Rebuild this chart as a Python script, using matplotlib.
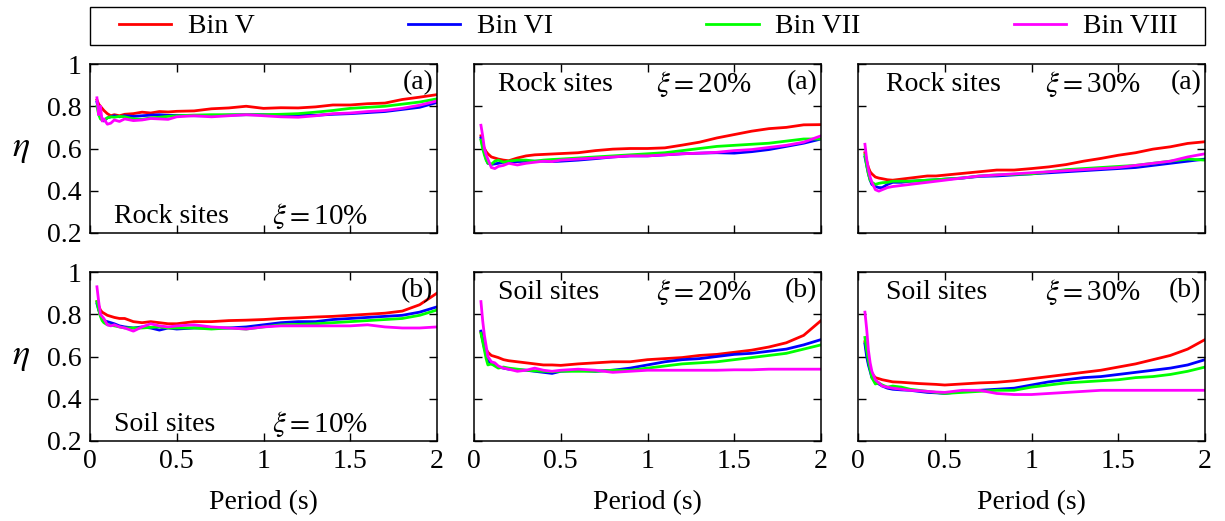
import matplotlib.pyplot as plt
from matplotlib.patches import Rectangle

plt.rcParams['font.family'] = 'Liberation Serif'
plt.rcParams['mathtext.fontset'] = 'stix'
plt.rcParams['font.size'] = 20

period = [0.04, 0.05, 0.06, 0.07, 0.08, 0.1, 0.12, 0.14, 0.17, 0.2, 0.25, 0.3, 0.35, 0.4, 0.45, 0.5,
          0.6, 0.7, 0.8, 0.9, 1.0, 1.1, 1.2, 1.3, 1.4, 1.5, 1.6, 1.7, 1.8, 1.9, 2.0]

bins = ['Bin V', 'Bin VI', 'Bin VII', 'Bin VIII']
colors = ['#ff0000', '#0000ff', '#00ff00', '#ff00ff']

# eta per bin (V, VI, VII, VIII) for each site class / damping ratio
rock_10 = [
    [0.83, 0.81, 0.80, 0.79, 0.78, 0.765, 0.755, 0.76, 0.755, 0.762, 0.765, 0.772, 0.768, 0.775, 0.773, 0.776,
     0.778, 0.788, 0.792, 0.800, 0.790, 0.793, 0.792, 0.797, 0.806, 0.806, 0.812, 0.815, 0.832, 0.843, 0.855],
    [0.82, 0.78, 0.76, 0.74, 0.73, 0.745, 0.75, 0.755, 0.75, 0.755, 0.752, 0.755, 0.758, 0.76, 0.757, 0.757,
     0.755, 0.755, 0.758, 0.76, 0.76, 0.757, 0.76, 0.757, 0.762, 0.765, 0.77, 0.775, 0.785, 0.795, 0.818],
    [0.80, 0.76, 0.74, 0.735, 0.735, 0.745, 0.75, 0.748, 0.752, 0.75, 0.74, 0.738, 0.745, 0.748, 0.752, 0.755,
     0.758, 0.76, 0.76, 0.76, 0.76, 0.762, 0.765, 0.772, 0.78, 0.79, 0.795, 0.80, 0.81, 0.82, 0.835],
    [0.84, 0.76, 0.80, 0.73, 0.74, 0.715, 0.72, 0.735, 0.728, 0.74, 0.732, 0.735, 0.742, 0.74, 0.738, 0.75,
     0.755, 0.75, 0.755, 0.76, 0.755, 0.75, 0.748, 0.755, 0.765, 0.768, 0.775, 0.78, 0.79, 0.805, 0.825],
]
rock_20 = [
    [0.66, 0.62, 0.60, 0.585, 0.575, 0.56, 0.555, 0.55, 0.545, 0.542, 0.555, 0.565, 0.57, 0.572, 0.574, 0.576,
     0.58, 0.59, 0.597, 0.60, 0.60, 0.603, 0.616, 0.63, 0.65, 0.666, 0.682, 0.694, 0.70, 0.712, 0.713],
    [0.65, 0.61, 0.58, 0.55, 0.53, 0.525, 0.527, 0.53, 0.535, 0.535, 0.538, 0.54, 0.54, 0.54, 0.538, 0.54,
     0.545, 0.552, 0.56, 0.565, 0.565, 0.57, 0.575, 0.578, 0.58, 0.578, 0.585, 0.595, 0.61, 0.625, 0.645],
    [0.64, 0.60, 0.57, 0.545, 0.53, 0.525, 0.54, 0.545, 0.535, 0.54, 0.545, 0.545, 0.54, 0.545, 0.548, 0.55,
     0.555, 0.56, 0.565, 0.57, 0.575, 0.58, 0.59, 0.60, 0.61, 0.615, 0.62, 0.625, 0.635, 0.645, 0.645],
    [0.71, 0.66, 0.60, 0.57, 0.55, 0.51, 0.505, 0.515, 0.52, 0.53, 0.522, 0.53, 0.535, 0.54, 0.538, 0.545,
     0.55, 0.555, 0.56, 0.565, 0.565, 0.57, 0.575, 0.578, 0.582, 0.59, 0.595, 0.605, 0.615, 0.63, 0.66],
]
rock_30 = [
    [0.58, 0.54, 0.51, 0.49, 0.48, 0.465, 0.46, 0.457, 0.452, 0.45, 0.455, 0.46, 0.465, 0.47, 0.47, 0.474,
     0.482, 0.49, 0.498, 0.498, 0.505, 0.513, 0.524, 0.54, 0.553, 0.568, 0.58, 0.597, 0.608, 0.624, 0.632],
    [0.56, 0.52, 0.48, 0.45, 0.43, 0.42, 0.415, 0.415, 0.43, 0.44, 0.44, 0.445, 0.447, 0.45, 0.452, 0.455,
     0.46, 0.468, 0.47, 0.475, 0.48, 0.485, 0.49, 0.495, 0.50, 0.505, 0.51, 0.52, 0.53, 0.54, 0.55],
    [0.57, 0.52, 0.48, 0.45, 0.44, 0.43, 0.435, 0.438, 0.44, 0.445, 0.445, 0.445, 0.448, 0.45, 0.452, 0.455,
     0.46, 0.47, 0.475, 0.478, 0.48, 0.49, 0.50, 0.505, 0.51, 0.515, 0.52, 0.53, 0.54, 0.55, 0.545],
    [0.62, 0.55, 0.50, 0.465, 0.44, 0.405, 0.398, 0.405, 0.415, 0.42, 0.425, 0.43, 0.435, 0.44, 0.445, 0.45,
     0.46, 0.47, 0.475, 0.48, 0.485, 0.49, 0.495, 0.50, 0.505, 0.51, 0.52, 0.53, 0.54, 0.56, 0.575],
]
soil_10 = [
    [0.86, 0.84, 0.82, 0.81, 0.805, 0.795, 0.79, 0.785, 0.78, 0.78, 0.765, 0.76, 0.765, 0.76, 0.755, 0.755,
     0.765, 0.765, 0.77, 0.772, 0.775, 0.78, 0.783, 0.787, 0.79, 0.795, 0.80, 0.805, 0.815, 0.845, 0.90],
    [0.85, 0.82, 0.80, 0.78, 0.77, 0.765, 0.76, 0.755, 0.745, 0.74, 0.735, 0.74, 0.735, 0.725, 0.735, 0.73,
     0.735, 0.735, 0.735, 0.74, 0.75, 0.76, 0.765, 0.765, 0.775, 0.78, 0.785, 0.79, 0.795, 0.81, 0.835],
    [0.86, 0.82, 0.79, 0.77, 0.76, 0.75, 0.748, 0.745, 0.74, 0.735, 0.735, 0.735, 0.738, 0.74, 0.735, 0.735,
     0.735, 0.73, 0.735, 0.73, 0.74, 0.75, 0.752, 0.755, 0.76, 0.765, 0.77, 0.775, 0.78, 0.795, 0.82],
    [0.93, 0.86, 0.80, 0.79, 0.78, 0.75, 0.745, 0.75, 0.74, 0.735, 0.72, 0.74, 0.755, 0.745, 0.74, 0.745,
     0.75, 0.74, 0.735, 0.73, 0.74, 0.745, 0.745, 0.745, 0.745, 0.745, 0.75, 0.74, 0.735, 0.735, 0.74],
]
soil_20 = [
    [0.716, 0.68, 0.65, 0.635, 0.62, 0.605, 0.60, 0.595, 0.585, 0.58, 0.575, 0.57, 0.565, 0.56, 0.56, 0.558,
     0.565, 0.57, 0.575, 0.575, 0.585, 0.59, 0.595, 0.605, 0.61, 0.62, 0.63, 0.645, 0.665, 0.70, 0.77],
    [0.72, 0.68, 0.64, 0.61, 0.58, 0.565, 0.56, 0.55, 0.545, 0.54, 0.537, 0.535, 0.53, 0.525, 0.52, 0.53,
     0.535, 0.53, 0.535, 0.545, 0.56, 0.575, 0.585, 0.59, 0.60, 0.61, 0.615, 0.625, 0.635, 0.655, 0.68],
    [0.71, 0.67, 0.63, 0.59, 0.56, 0.565, 0.555, 0.545, 0.55, 0.545, 0.54, 0.535, 0.532, 0.53, 0.528, 0.53,
     0.53, 0.53, 0.535, 0.535, 0.545, 0.555, 0.565, 0.57, 0.575, 0.585, 0.595, 0.605, 0.615, 0.635, 0.655],
    [0.86, 0.77, 0.70, 0.65, 0.60, 0.575, 0.57, 0.555, 0.545, 0.54, 0.53, 0.535, 0.545, 0.535, 0.53, 0.535,
     0.54, 0.535, 0.525, 0.53, 0.535, 0.535, 0.535, 0.535, 0.535, 0.537, 0.537, 0.54, 0.54, 0.54, 0.54],
]
soil_30 = [
    [0.67, 0.62, 0.57, 0.54, 0.52, 0.50, 0.495, 0.49, 0.485, 0.48, 0.478, 0.475, 0.472, 0.47, 0.468, 0.465,
     0.47, 0.475, 0.478, 0.485, 0.495, 0.505, 0.515, 0.525, 0.535, 0.55, 0.565, 0.585, 0.605, 0.635, 0.68],
    [0.66, 0.60, 0.56, 0.53, 0.50, 0.48, 0.47, 0.46, 0.45, 0.445, 0.442, 0.44, 0.435, 0.43, 0.428, 0.425,
     0.435, 0.44, 0.445, 0.45, 0.465, 0.48, 0.49, 0.50, 0.505, 0.515, 0.525, 0.535, 0.545, 0.56, 0.585],
    [0.69, 0.63, 0.58, 0.54, 0.50, 0.47, 0.475, 0.465, 0.455, 0.46, 0.455, 0.445, 0.44, 0.435, 0.43, 0.425,
     0.43, 0.435, 0.44, 0.44, 0.455, 0.465, 0.475, 0.48, 0.485, 0.49, 0.50, 0.505, 0.515, 0.53, 0.55],
    [0.81, 0.73, 0.63, 0.57, 0.53, 0.49, 0.475, 0.46, 0.455, 0.45, 0.445, 0.44, 0.438, 0.435, 0.432, 0.43,
     0.44, 0.44, 0.425, 0.42, 0.42, 0.425, 0.43, 0.435, 0.44, 0.44, 0.44, 0.44, 0.44, 0.44, 0.44],
]

panels = [[rock_10, rock_20, rock_30], [soil_10, soil_20, soil_30]]
site_names = ['Rock sites', 'Soil sites']
dampings = ['10%', '20%', '30%']
tags = ['(a)', '(b)']

x_ticks = [0, 0.5, 1, 1.5, 2]
x_ticklabels = ['0', '0.5', '1', '1.5', '2']
y_ticks = [0.2, 0.4, 0.6, 0.8, 1.0]
y_ticklabels = ['0.2', '0.4', '0.6', '0.8', '1']

fig = plt.figure(figsize=(12.25, 5.21), dpi=100)
lefts = [90 / 1225, 474 / 1225, 858 / 1225]
bottoms = [288 / 521, 80 / 521]
w, h = 347 / 1225, 169 / 521

lines = []
for r in range(2):
    for c in range(3):
        ax = fig.add_axes([lefts[c], bottoms[r], w, h])
        for vals, col in zip(panels[r][c], colors):
            ln, = ax.plot(period, vals, color=col, lw=2.0)
            if r == 0 and c == 0:
                lines.append(ln)
        ax.set_xlim(0, 2)
        ax.set_ylim(0.2, 1.0)
        ax.set_xticks(x_ticks)
        ax.set_yticks(y_ticks)
        ax.tick_params(direction='in', length=6, width=1, top=True, right=True, pad=6, labelsize=20)
        for s in ax.spines.values():
            s.set_linewidth(1.1)
        if r == 1:
            ax.set_xticklabels(x_ticklabels)
            ax.set_xlabel('Period (s)', fontsize=20, labelpad=11)
        else:
            ax.set_xticklabels([])
        if c == 0:
            ax.set_yticklabels(y_ticklabels)
            ax.set_ylabel(r'$\eta$', fontsize=26, rotation=0, va='center')
            ax.yaxis.set_label_coords(-0.2, 0.5)
        else:
            ax.set_yticklabels([])

        # site/damping annotations; first panel of each row puts them at the bottom
        ty = 0.1 if c == 0 else 0.88
        ax.text(0.07 if c < 2 else 0.08, ty, site_names[r], transform=ax.transAxes,
                fontsize=20, va='center', ha='left')
        ax.text(0.525 if c < 2 else 0.54, ty, r'$\xi=$' + dampings[c], transform=ax.transAxes,
                fontsize=21, va='center', ha='left')
        ax.text(0.99, 0.89, tags[r], transform=ax.transAxes, fontsize=20, va='center', ha='right')

# legend frame spans the panel width, entries sit inside with extra margin
fig.add_artist(Rectangle((90 / 1225, 476 / 521), 1115 / 1225, 38 / 521, transform=fig.transFigure,
                         fill=False, edgecolor='black', lw=1.0))
leg = fig.legend(lines, bins, loc='lower left', ncol=4, mode='expand',
                 bbox_to_anchor=(113 / 1225, 476 / 521, 1070 / 1225, 38 / 521),
                 fontsize=20, frameon=False, handlelength=1.9, handletextpad=0.6,
                 borderaxespad=0, borderpad=0.2)

fig.savefig('out.png', dpi=100)
